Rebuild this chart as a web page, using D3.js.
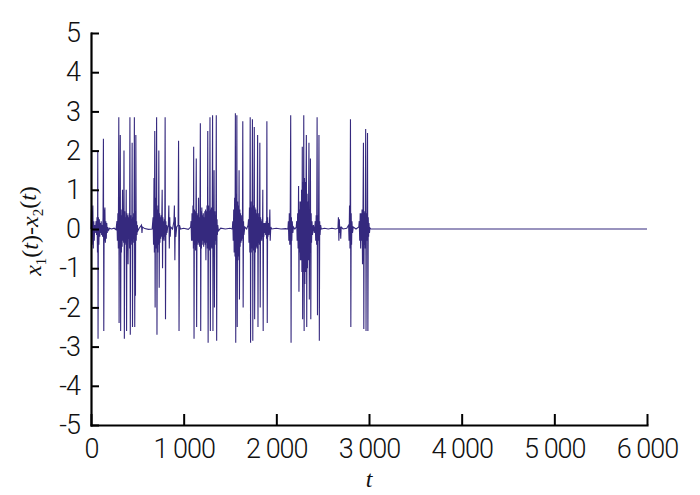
<!DOCTYPE html>
<html><head><meta charset="utf-8">
<script src="https://cdn.jsdelivr.net/npm/d3@7"></script>
<style>
html,body{margin:0;padding:0;background:#fff;}
svg{display:block;}
.tick text{font-family:Roboto,"DejaVu Sans",sans-serif;font-weight:300;font-size:27px;letter-spacing:-1px;fill:#111;}
</style></head>
<body>
<svg id="chart" width="700" height="495"></svg>
<script>
// ---- data ----
const xTicks = [0, 1000, 2000, 3000, 4000, 5000, 6000];
const xTickLabels = ["0", "1 000", "2 000", "3 000", "4 000", "5 000", "6 000"];
const yTicks = [-5, -4, -3, -2, -1, 0, 1, 2, 3, 4, 5];
const yTickLabels = ["-5", "-4", "-3", "-2", "-1", "0", "1", "2", "3", "4", "5"];

const burstA = [[0,0],[5,0.5],[10,-0.4],[15,0.3],[20,0.6],[25,-0.5],[30,0.2],[35,-0.3],[40,0.1],[45,-0.1],[50,0.05],[55,0.2],[60,-0.15],[65,0.3],[70,-0.6],[73,2.0],[76,-2.8],[80,0.3],[85,-0.4],[90,0.25],[95,-0.2],[100,0.15],[105,-0.1],[110,0.2],[115,-0.15],[120,0.1],[125,-0.2],[130,0.3],[134,2.3],[138,-2.6],[142,0.5],[146,-0.3],[150,0.55],[155,-0.35],[160,0.2],[165,-0.25],[170,0.15],[175,-0.1],[180,0.05],[190,-0.03],[200,0.02],[220,0],[250,0.02],[270,-0.02]];
const burstB = [[280,0.2],[285,-0.3],[290,0.4],[295,-0.5],[300,2.85],[303,-2.4],[307,0.6],[311,-0.5],[316,2.4],[320,-2.6],[324,0.5],[328,-0.6],[332,0.35],[336,-0.45],[340,1.0],[344,-0.3],[348,0.4],[352,-0.35],[356,2.0],[360,-2.8],[364,0.45],[368,-0.4],[372,0.3],[376,-0.35],[380,1.0],[384,-2.6],[388,0.4],[392,-0.3],[396,0.35],[400,-0.9],[404,0.3],[408,-0.25],[412,0.4],[416,-0.5],[420,2.85],[424,-2.7],[428,0.35],[432,-0.3],[436,0.25],[440,-0.4],[444,2.2],[448,-2.5],[452,0.3],[456,-0.25],[460,0.4],[464,-0.35],[468,2.85],[472,-2.5],[476,0.45],[480,-1.7],[484,2.4],[488,-0.3],[492,0.2],[496,-0.15],[500,0.1],[505,-0.05],[520,0.02],[545,0.1],[550,-0.1],[555,0.05],[580,0.01],[620,-0.01],[660,0]];
const burstC = [[670,0.3],[675,-0.4],[680,1.3],[684,-0.6],[688,2.5],[692,-2.0],[696,0.8],[700,-0.5],[704,0.7],[708,2.85],[712,-2.7],[716,0.5],[720,-0.6],[724,0.6],[728,-0.4],[732,2.0],[736,-1.5],[740,0.4],[744,-0.35],[748,0.3],[752,-0.25],[756,0.35],[760,-0.2],[764,0.25],[768,1.0],[772,-1.0],[776,0.3],[780,-0.25],[784,0.2],[788,-0.3],[792,0.25],[796,-0.2],[800,2.85],[804,-2.3],[808,0.2],[812,-0.15],[816,0.1],[820,-0.1],[828,0.05],[835,0.1],[840,0.6],[845,-0.5],[850,0.3],[855,-0.2],[860,0.05],[880,0],[895,0.2],[900,0.6],[905,-0.8],[910,0.3],[915,-0.2],[925,0.05],[940,0.1],[945,2.25],[950,-2.6],[955,0.1],[965,0],[1000,0.02],[1050,-0.01],[1075,0.05]];
const burstD = [[1080,0.2],[1085,-0.3],[1090,0.4],[1095,-0.3],[1100,0.6],[1105,-0.5],[1108,2.1],[1112,-2.8],[1116,0.5],[1120,-0.4],[1124,0.45],[1128,-0.55],[1132,0.35],[1136,1.8],[1140,-2.5],[1144,0.4],[1148,-0.3],[1152,0.35],[1156,-0.4],[1160,0.8],[1164,-0.35],[1168,0.3],[1172,-0.45],[1176,0.4],[1180,2.7],[1184,-2.6],[1188,0.45],[1192,-0.5],[1196,0.55],[1200,-0.4],[1204,0.35],[1208,-0.3],[1212,0.4],[1216,-0.45],[1220,0.3],[1224,-0.35],[1228,0.45],[1232,-0.4],[1236,0.5],[1240,-0.8],[1244,0.45],[1248,-0.35],[1252,0.6],[1256,-0.5],[1260,2.5],[1264,-2.9],[1268,0.6],[1272,-0.5],[1276,0.45],[1280,-0.55],[1284,2.85],[1288,-2.6],[1292,0.5],[1296,-0.45],[1300,0.55],[1304,-0.5],[1308,0.4],[1312,2.9],[1316,-2.6],[1320,0.5],[1324,-0.45],[1328,1.5],[1332,-2.0],[1336,0.45],[1340,-0.4],[1344,0.35],[1348,-0.3],[1352,2.9],[1356,-2.85],[1360,0.25],[1364,-0.15],[1368,0.1],[1375,-0.05],[1400,0.02],[1450,0],[1500,0.02],[1525,0]];
const burstE = [[1530,0.2],[1535,-0.3],[1540,0.5],[1545,-0.6],[1550,0.8],[1554,-0.7],[1558,2.95],[1562,-2.9],[1566,0.9],[1570,-0.8],[1574,2.9],[1578,-2.5],[1582,0.7],[1586,-0.8],[1590,0.6],[1594,-0.7],[1598,1.5],[1602,-1.8],[1606,0.5],[1610,-0.45],[1614,0.4],[1618,-0.35],[1622,0.35],[1626,-0.3],[1630,0.25],[1634,-0.25],[1638,2.75],[1642,-2.0],[1646,0.2],[1650,-0.15],[1660,0.05],[1680,0],[1695,0.1]];
const burstF = [[1700,0.25],[1705,-0.35],[1710,0.55],[1714,-0.6],[1718,2.85],[1722,-2.9],[1726,0.7],[1730,-0.6],[1734,0.55],[1738,-0.5],[1742,2.8],[1746,-2.85],[1750,0.6],[1754,-0.55],[1758,0.5],[1762,2.6],[1766,-2.3],[1770,0.55],[1774,-0.6],[1778,0.5],[1782,-0.45],[1786,0.4],[1790,-0.5],[1794,0.45],[1798,2.4],[1802,-2.5],[1806,0.4],[1810,-0.35],[1814,0.3],[1818,-0.4],[1822,2.2],[1826,-2.0],[1830,0.3],[1834,-0.25],[1838,0.2],[1842,-0.3],[1846,0.25],[1850,-0.2],[1854,1.0],[1858,-2.6],[1862,0.15],[1866,-0.2],[1870,0.15],[1875,-0.1],[1880,0.15],[1885,-0.15],[1890,0.2],[1895,-0.25],[1898,2.75],[1902,-2.4],[1906,0.3],[1910,-0.2],[1915,0.15],[1920,-0.15],[1925,0.1],[1930,0.5],[1934,-0.3],[1940,0.05],[1950,0],[2000,0.02],[2050,0],[2100,0.01],[2125,0]];
const burstG = [[2130,0.2],[2135,-0.3],[2140,0.4],[2145,-0.4],[2150,0.3],[2155,2.9],[2159,-2.9],[2163,0.3],[2167,-0.3],[2172,0.2],[2178,-0.1],[2185,0.05],[2200,0],[2215,0.05]];
const burstH = [[2220,0.2],[2225,-0.3],[2230,0.4],[2235,-0.5],[2240,1.1],[2244,-1.6],[2248,0.5],[2252,-0.6],[2256,0.7],[2260,-0.8],[2264,0.7],[2268,-0.8],[2272,1.0],[2276,-1.1],[2280,2.1],[2284,-2.3],[2288,1.2],[2292,-1.1],[2296,2.9],[2300,-2.6],[2304,1.3],[2308,-1.4],[2312,1.2],[2316,-1.1],[2320,1.0],[2324,2.4],[2328,-2.5],[2332,0.9],[2336,-1.0],[2340,0.7],[2344,-0.8],[2348,0.6],[2352,2.2],[2356,-1.8],[2360,0.5],[2364,-0.6],[2368,1.8],[2372,-2.3],[2376,0.4],[2380,-0.35],[2385,0.2],[2390,-0.15],[2400,0.1],[2410,-0.1],[2420,0.2],[2425,-0.3],[2430,0.35],[2435,-0.4],[2440,2.85],[2444,-2.2],[2448,0.35],[2452,-0.3],[2456,0.4],[2460,2.4],[2464,-2.85],[2468,0.2],[2472,-0.15],[2478,0.1],[2485,0],[2520,0.02],[2560,0],[2600,0.02],[2640,0],[2665,0.02]];
const burstI = [[2670,0.3],[2675,-0.3],[2680,0.25],[2685,-0.1],[2690,0.05],[2695,-0.25],[2700,0.05],[2720,0],[2760,0.02],[2780,0.1],[2785,-0.3],[2790,0.6],[2795,-0.5],[2800,2.8],[2804,-2.5],[2808,0.4],[2812,-0.4],[2816,0.2],[2822,-0.1],[2830,0.05],[2860,0],[2890,0.05]];
const burstJ = [[2895,0.2],[2900,-0.3],[2905,0.4],[2910,-0.5],[2915,0.4],[2920,-0.3],[2925,0.5],[2930,-0.9],[2935,0.4],[2940,2.2],[2944,-2.55],[2948,0.45],[2952,-0.4],[2956,0.4],[2960,-0.5],[2964,2.55],[2968,-2.6],[2972,0.4],[2976,-0.3],[2980,0.3],[2984,2.45],[2988,-2.6],[2992,0.3],[2996,-0.2],[3000,0.15],[3005,-0.1],[3010,0.03],[3020,0]];
const tail = [[6000,0]];

const series = [].concat(burstA, burstB, burstC, burstD, burstE, burstF, burstG, burstH, burstI, burstJ, tail);

// ---- layout ----
const svg = d3.select("#chart");
const mLeft = 91, mRight = 647, mTop = 33, mBottom = 425;

const x = d3.scaleLinear().domain([0, 6000]).range([mLeft, mRight]);
const y = d3.scaleLinear().domain([-5, 5]).range([mBottom, mTop]);

// signal
const line = d3.line().x(d => x(d[0])).y(d => y(d[1]));
svg.append("path")
  .datum(series)
  .attr("d", line)
  .attr("fill", "none")
  .attr("stroke", "#35297e")
  .attr("stroke-width", 1.1)
  .attr("stroke-linejoin", "miter");

// axes
const xAxis = d3.axisBottom(x)
  .tickValues(xTicks)
  .tickFormat((d, i) => xTickLabels[i])
  .tickSizeInner(-11).tickSizeOuter(0).tickPadding(14);
const yAxis = d3.axisLeft(y)
  .tickValues(yTicks)
  .tickFormat((d, i) => yTickLabels[i])
  .tickSizeInner(-8).tickSizeOuter(0).tickPadding(11);

const gx = svg.append("g").attr("transform", `translate(0,${mBottom})`).call(xAxis);
const gy = svg.append("g").attr("transform", `translate(${mLeft},0)`).call(yAxis);
[gx, gy].forEach(g => {
  g.select(".domain").attr("stroke", "#000").attr("stroke-width", 2.2).attr("stroke-linecap", "square");
  g.selectAll(".tick line").attr("stroke", "#000").attr("stroke-width", 2);
});
gx.selectAll(".tick text").attr("dy", "0.71em");

// axis titles
svg.append("text")
  .attr("x", 369).attr("y", 487)
  .attr("text-anchor", "middle")
  .style("font-family", "'Liberation Serif','DejaVu Serif',serif")
  .style("font-style", "italic")
  .style("font-size", "24px")
  .attr("fill", "#111")
  .text("t");

const yl = svg.append("text")
  .attr("transform", "translate(41,231) rotate(-90)")
  .attr("text-anchor", "middle")
  .style("font-family", "'Liberation Serif','DejaVu Serif',serif")
  .style("font-size", "24px")
  .attr("fill", "#111");
const parts = [
  {t:"x", it:true}, {t:"1", sub:true}, {t:"(", it:false}, {t:"t", it:true}, {t:")", it:false},
  {t:"-", it:false},
  {t:"x", it:true}, {t:"2", sub:true}, {t:"(", it:false}, {t:"t", it:true}, {t:")", it:false}
];
let shifted = false;
parts.forEach(p => {
  const ts = yl.append("tspan").text(p.t);
  if (p.sub) {
    ts.attr("dy", "0.3em").style("font-size", "15px");
    shifted = true;
  } else {
    if (shifted) { ts.attr("dy", "-0.3em"); shifted = false; }
    ts.style("font-style", p.it ? "italic" : "normal");
  }
});
</script>
</body></html>
